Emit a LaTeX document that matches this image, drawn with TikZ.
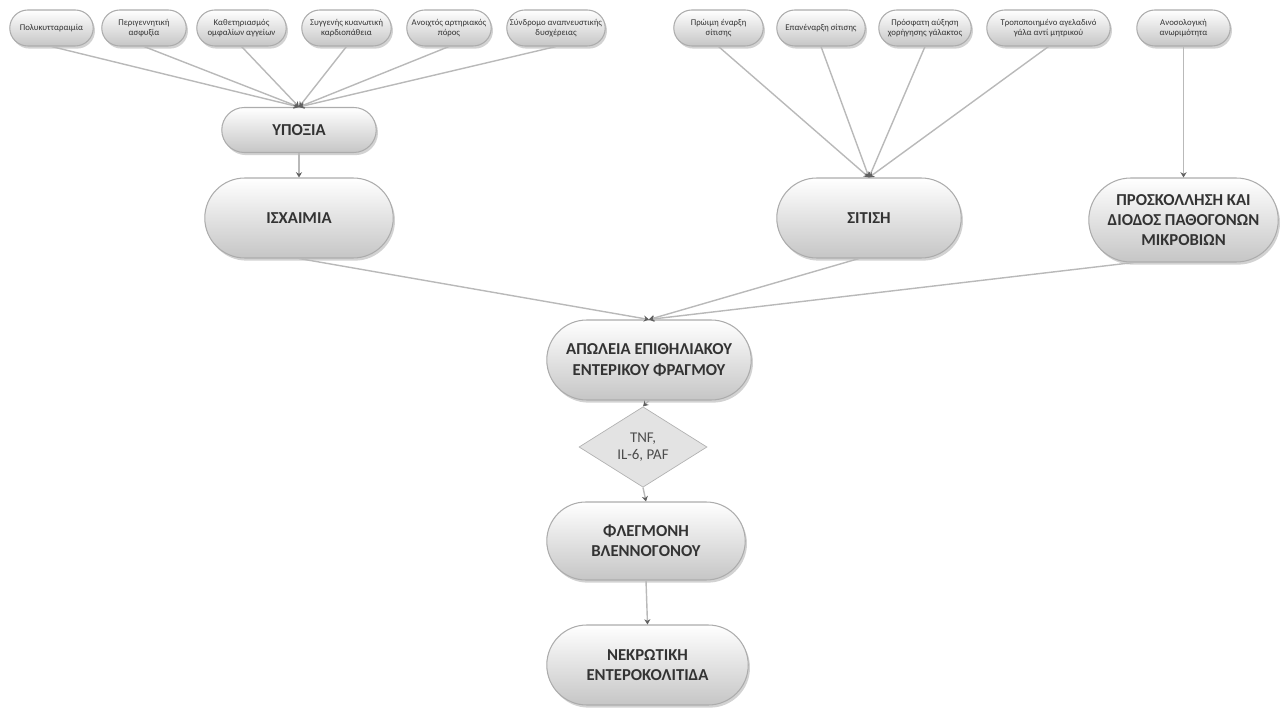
\documentclass[tikz,border=0pt]{standalone}
\usepackage{fontspec}
\setmainfont{Carlito}
\usepackage{tikz}
\usetikzlibrary{arrows.meta, positioning, shapes.geometric, shapes.misc, shadows}
\colorlet{BoxTop}{white}
\colorlet{BoxBottom}{gray!45}
\colorlet{BoxBorder}{gray!65}
\colorlet{LinkLine}{gray!55}
\colorlet{LinkTip}{gray!75!black}
\colorlet{LabelText}{black!80}

\tikzset{
  pill/.style={rounded rectangle, draw=BoxBorder, line width=0.6pt,
    top color=BoxTop, bottom color=BoxBottom, text=LabelText, align=center,
    inner sep=1pt, drop shadow={shadow xshift=1pt, shadow yshift=-1.5pt, fill=gray!70, opacity=0.5}},
  factor/.style={pill, minimum height=0.72cm, font=\fontsize{5}{6}\selectfont},
  stage/.style={pill, minimum height=1.6cm, font=\fontsize{9.5}{11.5}\selectfont\bfseries},
  cytobox/.style={diamond, draw=gray!60, fill=gray!22, text=black!70, align=center,
    minimum width=2.56cm, minimum height=1.6cm, inner sep=0pt,
    font=\fontsize{8.5}{10}\selectfont},
  link/.style={draw=LinkLine, line width=0.8pt,
    -{Stealth[length=3pt, width=3.5pt, color=LinkTip]}}
}

\begin{document}
\begin{tikzpicture}[x=0.02cm, y=-0.02cm]

    % Canvas
    \useasboundingbox (0,0) rectangle (1287,709);

    % Risk factors, hypoxia
    \node[factor, minimum width=1.74cm] (poly) at (51.5,28) {Πολυκυτταραιμία};
    \node[factor, minimum width=1.76cm] (asfy) at (144,28) {Περιγεννητική\\ασφυξία};
    \node[factor, minimum width=1.86cm] (kath) at (241.5,28) {Καθετηριασμός\\ομφαλίων αγγείων};
    \node[factor, minimum width=1.86cm] (kard) at (346.5,28) {Συγγενής κυανωτική\\καρδιοπάθεια};
    \node[factor, minimum width=1.76cm] (poros) at (449,28) {Ανοιχτός αρτηριακός\\πόρος};
    \node[factor, minimum width=2.04cm] (rds) at (556,28) {Σύνδρομο αναπνευστικής\\δυσχέρειας};

    % Risk factors, feeding
    \node[factor, minimum width=1.86cm] (proimi) at (718.5,28) {Πρώιμη έναρξη\\σίτισης};
    \node[factor, minimum width=1.84cm] (epan) at (821,28) {Επανέναρξη σίτισης};
    \node[factor, minimum width=1.92cm] (afxisi) at (925,28) {Πρόσφατη αύξηση\\χορήγησης γάλακτος};
    \node[factor, minimum width=2.54cm] (agel) at (1048.5,28) {Τροποποιημένο αγελαδινό\\γάλα αντί μητρικού};
    \node[factor, minimum width=1.94cm] (anos) at (1183.5,28) {Ανοσολογική\\ανωριμότητα};

    % Stages
    \node[pill, minimum width=3.16cm, minimum height=0.9cm, font=\fontsize{9.5}{11.5}\selectfont\bfseries] (ypoxia) at (299,130) {ΥΠΟΞΙΑ};
    \node[stage, minimum width=3.84cm] (isxaimia) at (299,218) {ΙΣΧΑΙΜΙΑ};
    \node[stage, minimum width=3.76cm] (sitisi) at (869,218) {ΣΙΤΙΣΗ};
    \node[stage, minimum width=3.86cm, minimum height=1.68cm] (mikrovia) at (1183.5,220) {ΠΡΟΣΚΟΛΛΗΣΗ ΚΑΙ\\ΔΙΟΔΟΣ ΠΑΘΟΓΟΝΩΝ\\ΜΙΚΡΟΒΙΩΝ};
    \node[stage, minimum width=4.16cm] (fragmos) at (649,360) {ΑΠΩΛΕΙΑ ΕΠΙΘΗΛΙΑΚΟΥ\\ΕΝΤΕΡΙΚΟΥ ΦΡΑΓΜΟΥ};
    \node[cytobox] (cyto) at (643,447) {TNF,\\IL-6, PAF};
    \node[stage, minimum width=4.04cm, minimum height=1.56cm] (flegmoni) at (646,541) {ΦΛΕΓΜΟΝΗ\\ΒΛΕΝΝΟΓΟΝΟΥ};
    \node[stage, minimum width=4.1cm] (nek) at (647.5,665) {ΝΕΚΡΩΤΙΚΗ\\ΕΝΤΕΡΟΚΟΛΙΤΙΔΑ};

    % Links
    \foreach \src in {poly, asfy, kath, kard, poros, rds}
      \draw[link] (\src.south) -- (ypoxia.north);
    \foreach \src in {proimi, epan, afxisi, agel}
      \draw[link] (\src.south) -- (sitisi.north);
    \draw[link] (anos.south) -- (mikrovia.north);
    \draw[link] (ypoxia.south) -- (isxaimia.north);
    \draw[link] (isxaimia.south) -- (fragmos.north);
    \draw[link] ([xshift=-0.2cm]sitisi.south) -- (fragmos.north);
    \draw[link] ([xshift=-1cm]mikrovia.south) -- (fragmos.north);
    \draw[link] (fragmos.south) -- (cyto.north);
    \draw[link] (cyto.south) -- (flegmoni.north);
    \draw[link] (flegmoni.south) -- (nek.north);

\end{tikzpicture}
\end{document}
